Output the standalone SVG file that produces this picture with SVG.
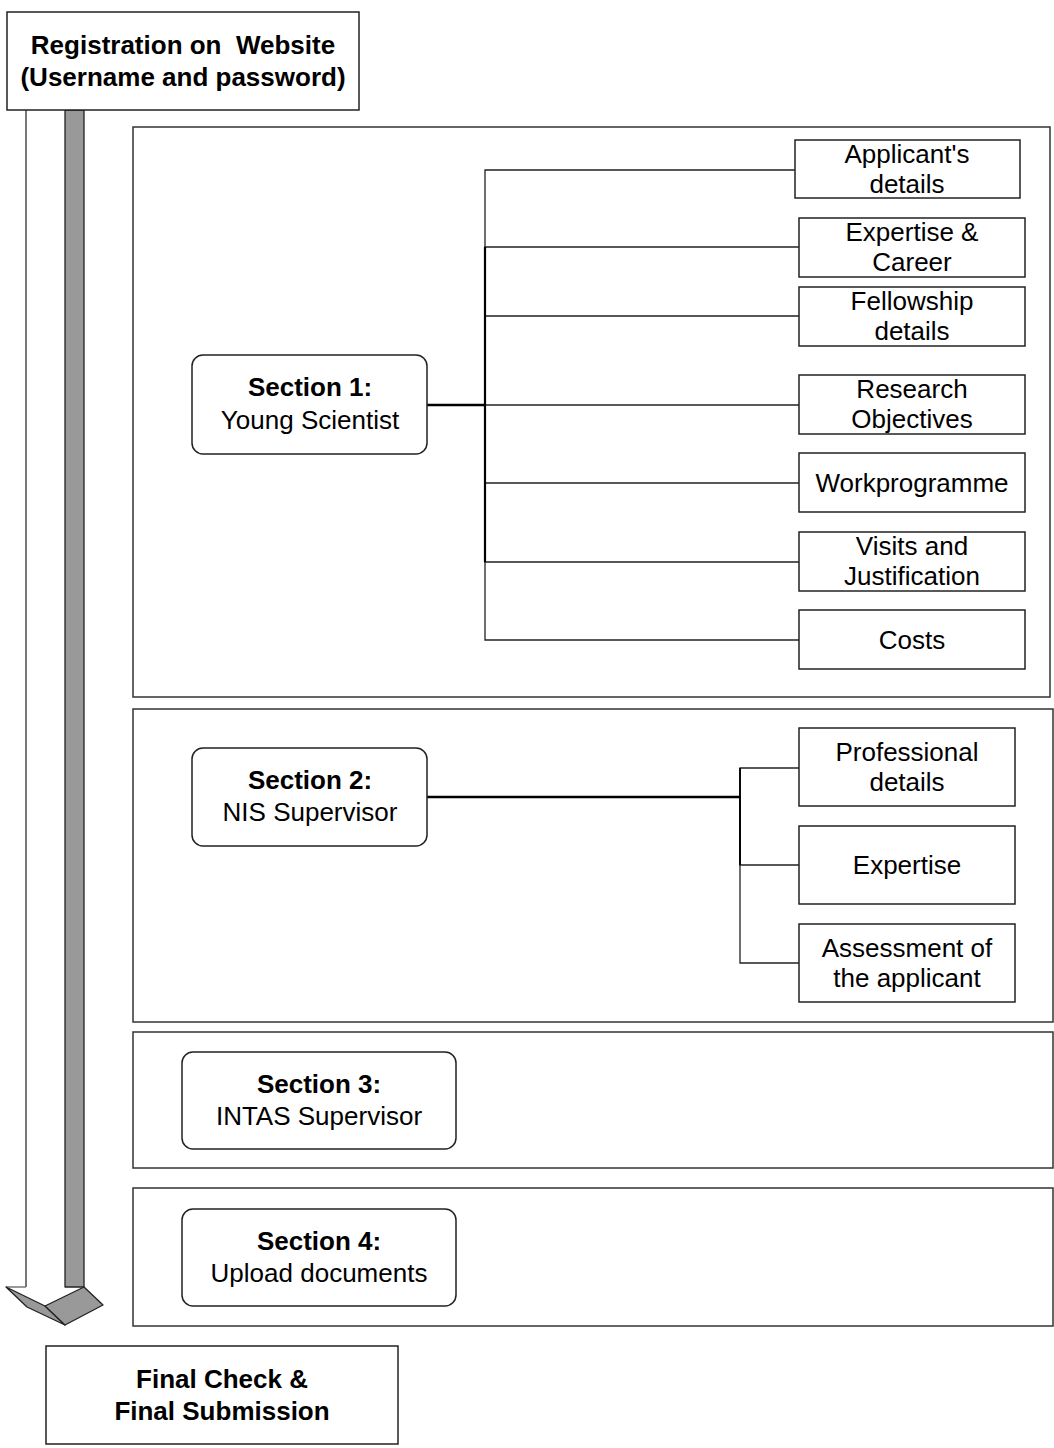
<svg xmlns="http://www.w3.org/2000/svg" width="1054" height="1448" viewBox="0 0 1054 1448">
<style>
text{font-family:"Liberation Sans",Arial,sans-serif;font-size:26px;fill:#000;text-anchor:middle}
.b{font-weight:bold}
.box{fill:#fff;stroke:#222;stroke-width:1.5}
.sec{fill:none;stroke:#333;stroke-width:1.5}
.rnd{fill:#fff;stroke:#222;stroke-width:1.5}
.thin{fill:none;stroke:#222;stroke-width:1.3}
.thick{fill:none;stroke:#000;stroke-width:2.5}
.grey{fill:#999;stroke:#222;stroke-width:1.3;stroke-linejoin:round}
</style>
<rect width="1054" height="1448" fill="#fff"/>

<g id="flow-arrow">
  <polygon points="6,1287 26,1287 26,110 65,110 65,1287 84,1287 103,1305 65,1325 6,1287" fill="#fff" stroke="none"/>
  <line x1="26" y1="110" x2="26" y2="1287" stroke="#777" stroke-width="2"/>
  <line x1="6" y1="1287" x2="26" y2="1287" stroke="#777" stroke-width="1.5"/>
  <rect x="65" y="110" width="19" height="1177" class="grey"/>
  <polygon points="6,1287 45,1306 65,1325 27,1307" class="grey"/>
  <polygon points="45,1306 84,1287 103,1305 65,1325" class="grey"/>
</g>

<g id="section1-frame"><rect x="133" y="127" width="917" height="570" class="sec"/></g>
<g id="section2-frame"><rect x="133" y="709" width="920" height="313" class="sec"/></g>
<g id="section3-frame"><rect x="133" y="1032" width="920" height="136" class="sec"/></g>
<g id="section4-frame"><rect x="133" y="1188" width="920" height="138" class="sec"/></g>

<g id="connectors">
  <path class="thin" d="M485,405 V170 H795"/>
  <path class="thin" d="M485,405 V247 H799"/>
  <path class="thin" d="M485,405 V316 H799"/>
  <path class="thin" d="M485,405 H799"/>
  <path class="thin" d="M485,405 V483 H799"/>
  <path class="thin" d="M485,405 V562 H799"/>
  <path class="thin" d="M485,405 V640 H799"/>
  <line x1="485" y1="247" x2="485" y2="562" stroke="#000" stroke-width="2.2"/>
  <line class="thick" x1="427" y1="405" x2="485" y2="405"/>
  <path class="thin" d="M740,797 V768 H799"/>
  <path class="thin" d="M740,797 V865 H799"/>
  <path class="thin" d="M740,797 V963 H799"/>
  <line x1="740" y1="768" x2="740" y2="865" stroke="#000" stroke-width="1.8"/>
  <line class="thick" x1="427" y1="797" x2="740" y2="797"/>
</g>

<g id="registration">
  <rect x="7" y="12" width="352" height="98" class="box"/>
  <text class="b" x="183" y="54" xml:space="preserve">Registration on  Website</text>
  <text class="b" x="183" y="86">(Username and password)</text>
</g>

<g id="section1">
  <rect x="192" y="355" width="235" height="99" rx="11" class="rnd"/>
  <text class="b" x="310" y="396">Section 1:</text>
  <text x="310" y="429">Young Scientist</text>
</g>
<g id="applicants-details">
  <rect x="795" y="140" width="225" height="58" class="box"/>
  <text x="907" y="163">Applicant's</text>
  <text x="907" y="193">details</text>
</g>
<g id="expertise-career">
  <rect x="799" y="218" width="226" height="59" class="box"/>
  <text x="912" y="241">Expertise &amp;</text>
  <text x="912" y="271">Career</text>
</g>
<g id="fellowship-details">
  <rect x="799" y="287" width="226" height="59" class="box"/>
  <text x="912" y="310">Fellowship</text>
  <text x="912" y="340">details</text>
</g>
<g id="research-objectives">
  <rect x="799" y="375" width="226" height="59" class="box"/>
  <text x="912" y="398">Research</text>
  <text x="912" y="428">Objectives</text>
</g>
<g id="workprogramme">
  <rect x="799" y="453" width="226" height="59" class="box"/>
  <text x="912" y="492">Workprogramme</text>
</g>
<g id="visits-justification">
  <rect x="799" y="532" width="226" height="59" class="box"/>
  <text x="912" y="555">Visits and</text>
  <text x="912" y="585">Justification</text>
</g>
<g id="costs">
  <rect x="799" y="610" width="226" height="59" class="box"/>
  <text x="912" y="649">Costs</text>
</g>

<g id="section2">
  <rect x="192" y="748" width="235" height="98" rx="11" class="rnd"/>
  <text class="b" x="310" y="789">Section 2:</text>
  <text x="310" y="821">NIS Supervisor</text>
</g>
<g id="professional-details">
  <rect x="799" y="728" width="216" height="78" class="box"/>
  <text x="907" y="761">Professional</text>
  <text x="907" y="791">details</text>
</g>
<g id="expertise">
  <rect x="799" y="826" width="216" height="78" class="box"/>
  <text x="907" y="874">Expertise</text>
</g>
<g id="assessment">
  <rect x="799" y="924" width="216" height="78" class="box"/>
  <text x="907" y="957">Assessment of</text>
  <text x="907" y="987">the applicant</text>
</g>

<g id="section3">
  <rect x="182" y="1052" width="274" height="97" rx="11" class="rnd"/>
  <text class="b" x="319" y="1093">Section 3:</text>
  <text x="319" y="1125">INTAS Supervisor</text>
</g>
<g id="section4">
  <rect x="182" y="1209" width="274" height="97" rx="11" class="rnd"/>
  <text class="b" x="319" y="1250">Section 4:</text>
  <text x="319" y="1282">Upload documents</text>
</g>

<g id="final">
  <rect x="46" y="1346" width="352" height="98" class="box"/>
  <text class="b" x="222" y="1388">Final Check &amp;</text>
  <text class="b" x="222" y="1420">Final Submission</text>
</g>
</svg>
